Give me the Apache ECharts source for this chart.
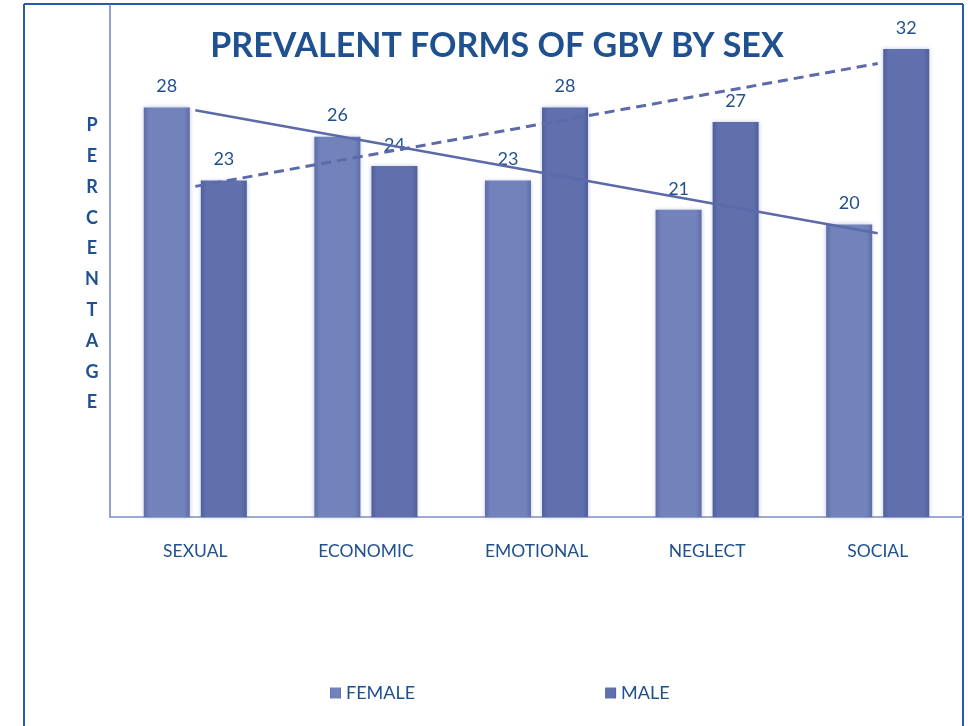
<!DOCTYPE html>
<html>
<head>
<meta charset="utf-8">
<script src="https://cdn.jsdelivr.net/npm/echarts@6/dist/echarts.min.js"></script>
<style>
html,body{margin:0;padding:0;background:#fff;}
#chart{width:968px;height:726px;}
</style>
</head>
<body>
<div id="chart"></div>
<script>
var categories = ['SEXUAL', 'ECONOMIC', 'EMOTIONAL', 'NEGLECT', 'SOCIAL'];
var femaleValues = [28, 26, 23, 21, 20];
var maleValues = [23, 24, 28, 27, 32];
// linear trend lines
var femaleTrend = [27.8, 25.7, 23.6, 21.5, 19.4];
var maleTrend = [22.6, 24.7, 26.8, 28.9, 31.0];
var yAxisName = 'PERCENTAGE';
var titleText = 'PREVALENT FORMS OF GBV BY SEX';

var textColor = '#1f5090';
var fontFam = 'Lato, "Open Sans", sans-serif';

function barGrad(c1, c2) {
  return new echarts.graphic.LinearGradient(0, 0, 1, 0, [
    {offset: 0, color: c2},
    {offset: 0.12, color: c1},
    {offset: 0.88, color: c1},
    {offset: 1, color: c2}
  ]);
}

var chart = echarts.init(document.getElementById('chart'));
chart.setOption({
  animation: false,
  backgroundColor: '#ffffff',
  title: {
    text: titleText,
    left: 492, textAlign: 'center', top: 24,
    textStyle: {color: textColor, fontSize: 34, fontWeight: 'bold', fontFamily: fontFam}
  },
  grid: {left: 110, right: 5, top: 5, bottom: 209, containLabel: false},
  legend: {
    data: ['FEMALE', 'MALE'],
    left: 325, top: 679,
    itemWidth: 11, itemHeight: 11, itemGap: 190,
    icon: 'rect',
    textStyle: {color: textColor, fontSize: 18, fontFamily: fontFam}
  },
  xAxis: {
    type: 'category',
    data: categories,
    axisLine: {show: true, lineStyle: {color: '#7f8fc4', width: 1.5}},
    axisTick: {show: false},
    axisLabel: {color: textColor, fontSize: 17.5, fontFamily: fontFam, margin: 25}
  },
  yAxis: {
    type: 'value', min: 0, max: 35, interval: 5,
    axisLine: {show: true, lineStyle: {color: '#6f85bf', width: 1.5}},
    axisTick: {show: false},
    axisLabel: {show: false},
    splitLine: {show: false}
  },
  graphic: [
    {type: 'line', shape: {x1: 24, y1: 4, x2: 24, y2: 726}, style: {stroke: '#2a5aa6', lineWidth: 2}},
    {type: 'line', shape: {x1: 24, y1: 4, x2: 963, y2: 4}, style: {stroke: '#2a5aa6', lineWidth: 2}},
    {type: 'line', shape: {x1: 963, y1: 4, x2: 963, y2: 726}, style: {stroke: '#2a5aa6', lineWidth: 2}},
    {type: 'text', x: 92, y: 110,
      style: {text: yAxisName.split('').join('\n'), fill: textColor, font: 'bold 18px ' + fontFam, lineHeight: 30.8, align: 'center'}}
  ],
  series: [
    {
      name: 'FEMALE', type: 'bar', data: femaleValues,
      barWidth: 46, barGap: '24%',
      itemStyle: {color: barGrad('#7282ba', '#5c6ca8'), shadowColor: 'rgba(80,90,160,0.35)', shadowBlur: 4},
      label: {show: true, position: 'top', distance: 12, color: textColor, fontSize: 18, fontFamily: fontFam}
    },
    {
      name: 'MALE', type: 'bar', data: maleValues,
      barWidth: 46,
      itemStyle: {color: barGrad('#6070ad', '#4e5f9e'), shadowColor: 'rgba(80,90,160,0.35)', shadowBlur: 4},
      label: {show: true, position: 'top', distance: 12, color: textColor, fontSize: 18, fontFamily: fontFam}
    },
    {
      name: 'Linear (FEMALE)', type: 'line', data: femaleTrend,
      symbol: 'none', z: 5,
      lineStyle: {color: '#5b6aa8', width: 2.5, type: 'solid'}
    },
    {
      name: 'Linear (MALE)', type: 'line', data: maleTrend,
      symbol: 'none', z: 5,
      lineStyle: {color: '#5b6aa8', width: 3, type: [10, 6]}
    }
  ]
});
</script>
</body>
</html>
